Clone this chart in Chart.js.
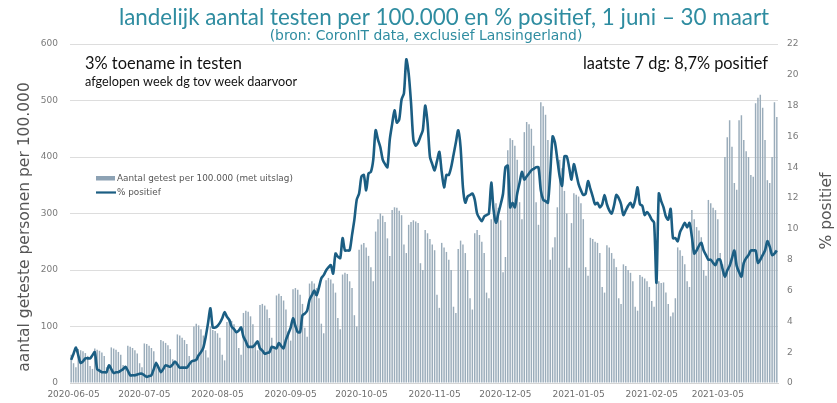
<!DOCTYPE html>
<html><head><meta charset="utf-8">
<script src="https://cdn.jsdelivr.net/npm/chart.js@4.4.1/dist/chart.umd.min.js"></script>
<style>html,body{margin:0;padding:0;background:#fff;overflow:hidden}canvas{display:block}</style>
</head><body>
<canvas id="c" width="837" height="403"></canvas>
<script>
// ---------- DATA ----------
const startDate = '2020-06-04';
const tickLabels = ['2020-06-05','2020-07-05','2020-08-05','2020-09-05','2020-10-05','2020-11-05','2020-12-05','2021-01-05','2021-02-05','2021-03-05'];
const leftTicks = [0,100,200,300,400,500,600];
const rightTicks = [0,2,4,6,8,10,12,14,16,18,20,22];
const seriesNames = ['Aantal getest per 100.000 (met uitslag)', '% positief'];

const testsPer100k = [
 50,35,28,
 60,58,56,53,48,30,25,
 61,59,57,54,48,28,24,
 63,61,59,55,50,32,26,
 66,64,62,58,52,35,28,
 70,69,66,62,56,38,30,
 76,74,71,67,60,42,34,
 86,84,80,76,69,48,38,
 100,105,102,95,84,58,45,
 100,94,92,88,80,50,40,
 108,112,110,104,92,62,50,
 124,128,126,118,104,72,58,
 138,140,137,130,115,80,65,
 155,158,154,146,130,92,75,
 166,168,165,156,140,98,82,
 176,180,176,168,150,105,88,
 182,186,183,176,160,115,95,
 192,195,193,180,168,120,100,
 236,245,248,240,225,205,180,
 268,290,300,296,285,256,225,
 306,311,310,305,297,245,230,
 280,285,288,286,283,212,200,
 271,265,255,245,235,156,133,
 248,240,232,218,200,135,124,
 237,252,245,230,200,150,130,
 265,271,262,250,230,160,150,
 290,300,318,310,288,196,223,
 412,433,430,420,395,320,290,
 444,462,458,450,420,320,280,
 497,490,475,430,218,240,258,
 311,395,380,340,300,204,283,
 336,333,330,318,290,205,190,
 257,255,250,248,230,170,160,
 244,240,230,220,205,150,140,
 210,207,200,195,180,135,128,
 191,188,185,180,170,145,135,
 182,180,177,178,160,140,118,
 125,150,240,235,225,210,180,
 170,306,290,276,270,258,200,
 190,324,318,310,306,290,230,
 210,400,435,465,418,354,342,
 465,474,430,410,400,368,365,
 495,505,510,487,430,359,354,
 400,497,471
];

const pctPositive = [
 1.5,1.9,2.3,1.8,1.3,1.4,1.6,1.6,1.6,1.8,
 2.0,0.9,0.8,0.7,0.7,0.7,1.15,0.9,0.65,0.7,
 0.7,0.8,0.9,1.05,0.8,0.5,0.5,0.5,0.55,0.6,
 0.6,0.5,0.4,0.45,0.5,0.9,1.3,1.0,0.7,0.9,
 1.15,1.1,1.05,1.2,1.4,1.2,1.0,1.0,1.0,1.0,
 1.2,1.4,1.45,1.5,1.8,2.0,2.3,3.0,3.9,4.85,
 3.6,3.6,3.7,3.9,4.2,4.6,4.3,4.1,3.65,3.5,
 3.3,3.4,3.6,3.0,2.7,2.35,2.35,2.35,2.5,2.7,
 2.25,2.1,1.9,1.95,2.0,2.35,2.3,2.25,2.6,2.4,
 2.25,2.8,3.2,3.6,4.2,3.7,3.3,3.3,4.4,4.5,
 4.7,5.4,5.7,6.0,5.7,6.2,6.8,7.0,7.3,7.5,
 7.65,7.1,8.4,8.2,8.1,9.4,8.6,8.6,8.6,9.6,
 10.6,11.9,12.3,13.4,13.5,12.5,13.6,13.7,14.5,16.4,
 15.8,15.3,14.5,14.2,14.0,15.8,16.8,17.7,16.9,17.1,
 18.4,18.8,21.0,20.1,18.2,15.8,15.4,15.6,16.0,16.4,
 18.0,16.9,14.7,14.2,13.8,14.4,15.0,13.7,12.7,13.5,
 13.5,14.0,14.8,15.6,16.4,15.3,12.7,11.7,12.1,12.2,
 12.3,11.9,11.0,10.7,10.5,10.8,10.9,11.0,13.0,11.2,
 10.4,11.0,11.6,12.3,14.0,14.1,11.4,11.7,11.4,12.3,
 13.0,13.7,13.2,13.4,13.6,13.8,13.9,14.0,14.0,12.5,
 11.9,11.8,11.7,13.6,16.0,15.6,14.5,13.4,12.8,14.7,
 14.7,14.0,13.2,14.2,13.6,12.9,12.5,12.2,12.3,13.1,
 12.6,12.1,11.6,11.7,11.4,11.6,12.2,11.6,11.2,11.0,
 11.5,12.2,12.0,11.6,10.9,11.2,11.5,11.7,11.4,11.9,
 12.7,11.6,11.5,10.9,11.1,10.9,10.6,10.4,6.5,12.3,
 11.8,11.4,10.8,10.6,11.3,9.4,9.4,9.2,9.8,10.1,
 10.4,10.1,10.4,9.5,8.4,8.6,8.9,9.1,8.6,8.3,
 8.0,8.0,7.8,7.65,8.0,8.0,7.4,6.9,7.3,7.6,
 8.1,8.6,7.6,7.2,6.9,7.8,8.1,8.3,8.6,8.6,
 8.6,7.8,8.0,8.3,8.6,9.2,8.85,8.3,8.4,8.6
];

const titleText = 'landelijk aantal testen per 100.000 en % positief, 1 juni \u2013 30 maart';
const subtitleText = '(bron: CoronIT data, exclusief Lansingerland)';
const noteLeft1 = '3% toename in testen';
const noteLeft2 = 'afgelopen week dg tov week daarvoor';
const noteRight = 'laatste 7 dg: 8,7% positief';
const yTitleLeft = 'aantal geteste personen per 100.000';
const yTitleRight = '% positief';

// ---------- categories (one per day) ----------
const dates = [];
(function(){
  const d0 = new Date(startDate + 'T12:00:00Z');
  for (let i = 0; i < testsPer100k.length; i++) {
    dates.push(new Date(d0.getTime() + i * 86400000).toISOString().slice(0, 10));
  }
})();

// ---------- styling ----------
const BAR_COLOR = '#9aacba';
const LINE_COLOR = '#1b5e83';
const TEAL = '#2e8ca0';

function fitFont(ctx, text, family, width, weight) {
  ctx.font = (weight || '') + ' 20px ' + family;
  const w = ctx.measureText(text).width;
  return 20 * width / w;
}

const textPlugin = {
  id: 'texts',
  afterDraw(chart) {
    const ctx = chart.ctx;
    ctx.save();
    // title
    let s = fitFont(ctx, titleText, 'Lato', 650);
    ctx.font = s.toFixed(2) + 'px Lato';
    ctx.fillStyle = TEAL; ctx.textAlign = 'center'; ctx.textBaseline = 'alphabetic';
    ctx.fillText(titleText, 444, 25);
    s = fitFont(ctx, subtitleText, '"DejaVu Sans"', 313);
    ctx.font = s.toFixed(2) + 'px "DejaVu Sans"';
    ctx.fillText(subtitleText, 426, 40);

    // notes
    ctx.fillStyle = '#111';
    ctx.textAlign = 'left';
    s = fitFont(ctx, noteLeft1, 'Lato', 157);
    ctx.font = s.toFixed(2) + 'px Lato';
    ctx.fillText(noteLeft1, 85, 69);
    s = fitFont(ctx, noteLeft2, 'Lato', 212);
    ctx.font = s.toFixed(2) + 'px Lato';
    ctx.fillText(noteLeft2, 85, 86);
    ctx.textAlign = 'right';
    s = fitFont(ctx, noteRight, 'Lato', 185);
    ctx.font = s.toFixed(2) + 'px Lato';
    ctx.fillText(noteRight, 768, 69);

    // legend
    ctx.fillStyle = '#8da2b4';
    ctx.fillRect(96, 176, 19, 4.5);
    ctx.strokeStyle = LINE_COLOR; ctx.lineWidth = 2.2;
    ctx.beginPath(); ctx.moveTo(96, 192.5); ctx.lineTo(116, 192.5); ctx.stroke();
    ctx.fillStyle = '#555'; ctx.textAlign = 'left'; ctx.textBaseline = 'middle';
    s = fitFont(ctx, seriesNames[0], '"DejaVu Sans"', 176);
    ctx.font = s.toFixed(2) + 'px "DejaVu Sans"';
    ctx.fillText(seriesNames[0], 117, 178.5);
    ctx.fillText(seriesNames[1], 117, 193);

    // axis titles
    ctx.fillStyle = '#555';
    ctx.textAlign = 'center'; ctx.textBaseline = 'middle';
    ctx.save();
    ctx.translate(25, 227); ctx.rotate(-Math.PI / 2);
    s = fitFont(ctx, yTitleLeft, '"DejaVu Sans"', 290);
    ctx.font = s.toFixed(2) + 'px "DejaVu Sans"';
    ctx.fillText(yTitleLeft, 0, 0);
    ctx.restore();
    ctx.save();
    ctx.translate(827, 211); ctx.rotate(-Math.PI / 2);
    ctx.font = s.toFixed(2) + 'px "DejaVu Sans"';
    ctx.fillText(yTitleRight, 0, 0);
    ctx.restore();
    ctx.restore();
  }
};

const tickFont = { family: 'DejaVu Sans', size: 9 };

new Chart(document.getElementById('c').getContext('2d'), {
  type: 'bar',
  data: {
    labels: dates,
    datasets: [
      { type: 'line', label: seriesNames[1], data: pctPositive, yAxisID: 'y2',
        borderColor: LINE_COLOR, borderWidth: 2.6, pointRadius: 0, tension: 0.25, order: 0, fill: false },
      { type: 'bar', label: seriesNames[0], data: testsPer100k, yAxisID: 'y',
        backgroundColor: BAR_COLOR, barPercentage: 0.62, categoryPercentage: 1, order: 1 }
    ]
  },
  options: {
    responsive: false, animation: false, devicePixelRatio: 1,
    layout: { padding: { top: 44, left: 0, right: 0, bottom: 0 } },
    plugins: { legend: { display: false }, tooltip: { enabled: false }, title: { display: false } },
    scales: {
      x: {
        grid: { display: false, drawTicks: false },
        border: { display: true, color: '#d4d4d4' },
        ticks: { autoSkip: false, maxRotation: 0, minRotation: 0, padding: 6, font: tickFont, color: '#6f6f6f',
          callback: function(v, i) { return tickLabels.includes(dates[i]) ? dates[i] : ''; } },
        afterFit(s) { s.height = 20; }
      },
      y: {
        position: 'left', min: leftTicks[0], max: leftTicks[leftTicks.length - 1],
        afterBuildTicks(s) { s.ticks = leftTicks.map(v => ({ value: v })); },
        ticks: { padding: 12, font: tickFont, color: '#7a7a7a' },
        grid: { color: '#dddddd', drawTicks: false },
        border: { display: false },
        afterFit(s) { s.width = 70; }
      },
      y2: {
        position: 'right', min: rightTicks[0], max: rightTicks[rightTicks.length - 1],
        afterBuildTicks(s) { s.ticks = rightTicks.map(v => ({ value: v })); },
        ticks: { padding: 9, font: tickFont, color: '#7a7a7a' },
        grid: { display: false, drawTicks: false },
        border: { display: false },
        afterFit(s) { s.width = 59; }
      }
    }
  },
  plugins: [textPlugin]
});
</script>
</body></html>
